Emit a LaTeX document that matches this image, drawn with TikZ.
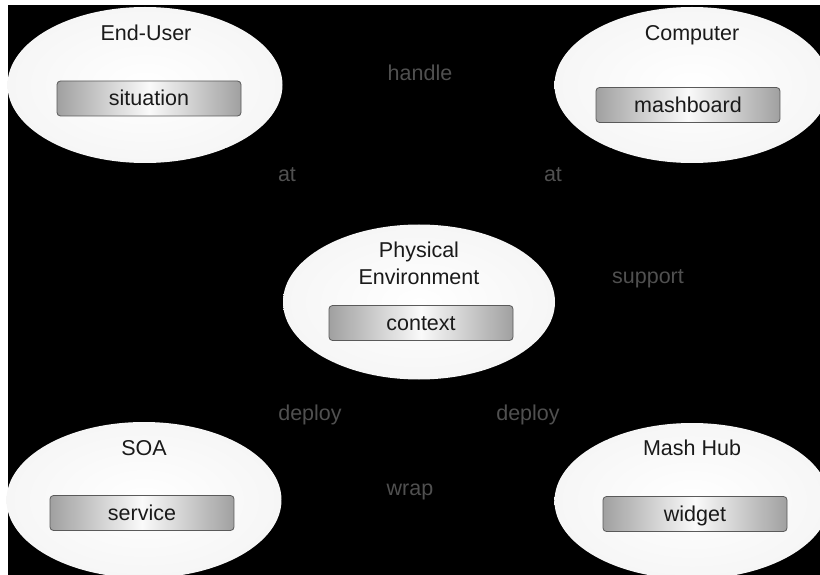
\documentclass[tikz,border=0pt]{standalone}
\usepackage{fontspec}
\setmainfont{Liberation Sans}
\usetikzlibrary{shapes.geometric}
\definecolor{lbl}{HTML}{505050}
\definecolor{txt}{HTML}{1A1A1A}
\definecolor{boxedge}{HTML}{A0A0A0}
\definecolor{boxline}{HTML}{5A5A5A}
\definecolor{ellout}{HTML}{F6F6F6}
\tikzset{
  domainell/.style={ellipse, inner sep=0pt, minimum width=275pt, minimum height=156pt,
    inner color=white, outer color=ellout, draw=none},
  conceptbox/.style={rectangle, rounded corners=3.5pt, minimum width=184pt, minimum height=35pt,
    draw=boxline, line width=0.8pt, left color=boxedge, right color=boxedge, middle color=white!96!gray},
  ttl/.style={anchor=base, text=txt, inner sep=0pt, font=\fontsize{21.5}{25}\selectfont},
  rellbl/.style={anchor=base, text=lbl, inner sep=0pt, font=\fontsize{21.5}{25}\selectfont},
  conn/.style={draw=black, line width=0.8pt}
}
\begin{document}
\begin{tikzpicture}[x=1pt,y=-1pt]
\useasboundingbox (0,0) rectangle (820,575);
\fill[white] (0,0) rectangle (820,575);
\fill[black] (8,5) rectangle (820,575);
% domains
\node[domainell] (eu) at (145,85) {};
\node[domainell] (cp) at (692,85) {};
\node[domainell, minimum width=272pt, minimum height=155pt] (pe) at (419,302) {};
\node[domainell] (soa) at (144,500) {};
\node[domainell] (mh) at (692,501) {};
% connectors (black on black)
\draw[conn] (eu) -- (cp);
\draw[conn] (eu) -- (pe);
\draw[conn] (cp) -- (pe);
\draw[conn] (mh) -- (cp);
\draw[conn] (pe) -- (soa);
\draw[conn] (pe) -- (mh);
\draw[conn] (soa) -- (mh);
% titles
\node[ttl] (teu) at (146,41) {End-User};
\node[ttl] (tcp) at (692,41) {Computer};
\node[ttl] (tpe1) at (419,258) {Physical};
\node[ttl] (tpe2) at (419,284) {Environment};
\node[ttl] (tsoa) at (144,455) {SOA};
\node[ttl] (tmh) at (692,455) {Mash Hub};
% concepts
\node[conceptbox] (situation) at (149,98.5) {};
\node[ttl] at (149,106) {situation};
\node[conceptbox] (mashboard) at (688,105) {};
\node[ttl] at (688,113) {mashboard};
\node[conceptbox] (context) at (421,323) {};
\node[ttl] at (421,330.5) {context};
\node[conceptbox] (service) at (142,513) {};
\node[ttl] at (142,520.5) {service};
\node[conceptbox] (widget) at (695,514) {};
\node[ttl] at (695,521) {widget};
% relation labels
\node[rellbl] (lhandle) at (420,81) {handle};
\node[rellbl] (lat1) at (287,182) {at};
\node[rellbl] (lat2) at (553,182) {at};
\node[rellbl] (lsupport) at (648,283) {support};
\node[rellbl] (ldeploy1) at (310,420) {deploy};
\node[rellbl] (ldeploy2) at (528,420) {deploy};
\node[rellbl] (lwrap) at (410,495) {wrap};
\end{tikzpicture}
\end{document}
